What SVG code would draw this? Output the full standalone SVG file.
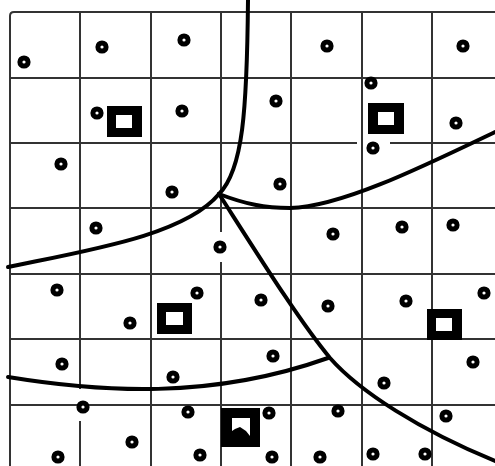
<svg xmlns="http://www.w3.org/2000/svg" width="495" height="466" viewBox="0 0 495 466">
<style>
.g{stroke:#333;stroke-width:2;fill:none}
.c{stroke:#000;stroke-width:4;fill:none;stroke-linecap:round}
.d{stroke:#000;stroke-width:5;fill:#fff}
.o{fill:#000}
.i{fill:#fff}
</style>
<rect width="495" height="466" fill="#fff"/>
<g id="grid" class="g">
<path d="M10,466 V16 Q10,12 14,12 H495"/>
<path d="M80,12 V389 M80,421 V466"/>
<path d="M151,12 V466"/>
<path d="M221,12 V232 M221,262 V466"/>
<path d="M291,12 V466"/>
<path d="M362,12 V466"/>
<path d="M432,12 V466"/>
<path d="M10,78 H495"/>
<path d="M10,143 H357 M390,143 H495"/>
<path d="M10,208 H495"/>
<path d="M10,274 H495"/>
<path d="M10,339 H495"/>
<path d="M10,405 H495"/>
</g>
<g id="connectors" class="c">
<path d="M248,0 C247,110 243,170 219,194"/>
<path d="M8,267 C90,250 185,235 219,194"/>
<path d="M219,194 C245,204 265,208 290,208 C340,207 420,168 495,132"/>
<path d="M219,194 C260,258 300,322 330,358 C360,392 420,430 495,461"/>
<path d="M8,377 C100,392 210,400 328,358"/>
</g>
<g id="sites" class="d">
<circle cx="24" cy="62" r="4.1"/>
<circle cx="102" cy="47" r="4.1"/>
<circle cx="184" cy="40" r="4.1"/>
<circle cx="97" cy="113" r="4.1"/>
<circle cx="182" cy="111" r="4.1"/>
<circle cx="61" cy="164" r="4.1"/>
<circle cx="172" cy="192" r="4.1"/>
<circle cx="96" cy="228" r="4.1"/>
<circle cx="327" cy="46" r="4.1"/>
<circle cx="463" cy="46" r="4.1"/>
<circle cx="276" cy="101" r="4.1"/>
<circle cx="371" cy="83" r="4.1"/>
<circle cx="456" cy="123" r="4.1"/>
<circle cx="373" cy="148" r="4.1"/>
<circle cx="280" cy="184" r="4.1"/>
<circle cx="333" cy="234" r="4.1"/>
<circle cx="402" cy="227" r="4.1"/>
<circle cx="453" cy="225" r="4.1"/>
<circle cx="220" cy="247" r="4.1"/>
<circle cx="57" cy="290" r="4.1"/>
<circle cx="197" cy="293" r="4.1"/>
<circle cx="130" cy="323" r="4.1"/>
<circle cx="62" cy="364" r="4.1"/>
<circle cx="173" cy="377" r="4.1"/>
<circle cx="83" cy="407" r="4.1"/>
<circle cx="188" cy="412" r="4.1"/>
<circle cx="132" cy="442" r="4.1"/>
<circle cx="58" cy="457" r="4.1"/>
<circle cx="200" cy="455" r="4.1"/>
<circle cx="261" cy="300" r="4.1"/>
<circle cx="328" cy="306" r="4.1"/>
<circle cx="406" cy="301" r="4.1"/>
<circle cx="484" cy="293" r="4.1"/>
<circle cx="273" cy="356" r="4.1"/>
<circle cx="473" cy="362" r="4.1"/>
<circle cx="384" cy="383" r="4.1"/>
<circle cx="269" cy="413" r="4.1"/>
<circle cx="338" cy="411" r="4.1"/>
<circle cx="446" cy="416" r="4.1"/>
<circle cx="272" cy="457" r="4.1"/>
<circle cx="320" cy="457" r="4.1"/>
<circle cx="373" cy="454" r="4.1"/>
<circle cx="425" cy="454" r="4.1"/>
</g>
<g id="square1"><rect class="o" x="107" y="106" width="35" height="31"/><rect class="i" x="116" y="115" width="16" height="13"/></g>
<g id="square2"><rect class="o" x="368" y="103" width="36" height="31"/><rect class="i" x="378" y="112" width="16" height="13"/></g>
<g id="square3"><rect class="o" x="157" y="303" width="35" height="31"/><rect class="i" x="166" y="312" width="17" height="13"/></g>
<g id="square4"><rect class="o" x="221" y="408" width="39" height="39"/><path class="i" d="M232,418 H250 V436 L246,431 L240,427 L235,429 L232,431 Z"/></g>
<g id="square5"><rect class="o" x="427" y="309" width="35" height="31"/><rect class="i" x="436" y="318" width="16" height="13"/></g>
</svg>
